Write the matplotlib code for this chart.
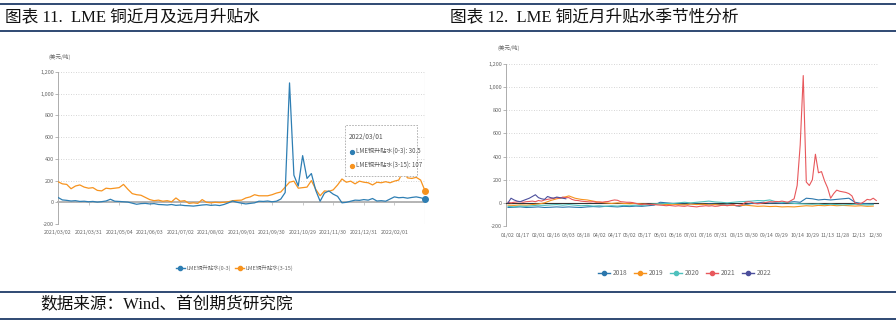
import numpy as np
import pandas as pd
import matplotlib
matplotlib.use('Agg')
import matplotlib.pyplot as plt
from matplotlib.lines import Line2D
from matplotlib.patches import Rectangle
from matplotlib.ticker import FuncFormatter

plt.rcParams['font.family'] = ['Noto Sans CJK SC', 'DejaVu Sans']

# ---- LME copper spreads, one value every 3 trading days from 2021/03/02 ----
spread_step = 3
spread_ticks = ['2021/03/02', '2021/03/31', '2021/05/04', '2021/06/03', '2021/07/02',
                '2021/08/02', '2021/09/01', '2021/09/30', '2021/10/29', '2021/11/30',
                '2021/12/31', '2022/02/01']
spread_tick_every = 21  # trading days between labels
last_date = '2022/03/01'

near_vals = [45, 22, 18, 12, 15, 8, 10, 5, 8, 2,
             6, 12, 28, 10, 8, 5, 2, -8, -18, -12,
             -10, -15, -12, -20, -22, -25, -20, -28, -25, -30,
             -32, -35, -30, -25, -22, -28, -25, -30, -20, -5,
             12, 0, -8, -15, -10, -5, 10, 8, 12, 5,
             10, 30, 90, 1100, 250, 150, 430, 220, 265, 110,
             10, 85, 105, 75, 55, -5, 0, 10, 20, 18,
             25, 20, 35, 12, 15, 10, 30, 50, 42, 45,
             38, 45, 50, 42, 30.5]

far_vals = [190, 170, 165, 125, 150, 160, 140, 130, 135, 110,
            105, 130, 125, 130, 135, 165, 120, 80, 70, 65,
            45, 25, 15, 20, 10, 15, 5, 40, 10, 15,
            -10, -5, -10, 25, 0, -5, 0, -3, 0, 5,
            15, 18, 20, 40, 50, 70, 60, 60, 60, 70,
            85, 95, 140, 185, 195, 130, 135, 140, 200, 120,
            60, 105, 100, 115, 160, 215, 185, 195, 170, 195,
            185, 180, 160, 185, 180, 190, 180, 195, 205, 285,
            225, 220, 230, 205, 107]

near_name = 'LME铜升贴水(0-3)'
far_name = 'LME铜升贴水(3-15)'

# ---- seasonal view of the near spread, calendar days from 01/02 ----
season_ticks = ['01/02', '01/17', '02/01', '02/16', '03/03', '03/18', '04/02', '04/17',
                '05/02', '05/17', '06/01', '06/16', '07/01', '07/16', '07/31', '08/15',
                '08/30', '09/14', '09/29', '10/14', '10/29', '11/13', '11/28', '12/13', '12/30']

y2018 = [-40, -38, -35, -40, -38, -35, -40, -38, -35, -38,
         -35, -38, -40, -35, -32, -35, -30, -32, -35, -30,
         -32, -28, -30, -25, -20, 5, 0, -5, -10, -12,
         -8, -10, -15, -10, -12, -15, -18, -20, -30, -15,
         -5, 0, 5, -2, 0, -5, 5, 10, 5, 40,
         35, 25, 30, 25, 30, 35, 40, 5, -5, -8, -10]
y2019 = [-20, -22, -18, -20, -15, -10, 0, 20, 35, 45,
         60, 40, 30, 25, 15, 5, 0, -5, 0, -5,
         -8, -5, -10, -15, -12, -10, -15, -12, -15, -18,
         -10, -15, -12, -18, -15, -20, -22, -20, -25, -20,
         -25, -30, -28, -32, -30, -35, -33, -35, -30, -25,
         -28, -22, -25, -20, -25, -22, -25, -28, -25, -30, -28]
y2020 = [-30, -35, -28, -30, -25, -20, -22, -18, -15, -20,
         -15, -20, -25, -22, -28, -25, -30, -25, -28, -22,
         -25, -20, -22, -15, -10, -8, -5, -5, 0, 5,
         0, 5, 10, 15, 8, 5, 0, 5, 10, 12,
         15, 20, 18, 25, 10, 5, 0, -5, -8, -10,
         -12, -10, -15, -12, -15, -18, -15, -12, -15, -18, -15]
y2021 = [5, 0, 5, 8, 10, 5, 10, 12, 15, 10,
         20, 15, 25, 30, 35, 40, 45, 40, 50, 45,
         45, 30, 22, 20, 15, 12, 10, 8, 10, 5,
         8, 6, 10, 12, 20, 25, 22, 10, 8, 5,
         5, 2, -5, -12, -15, -10, -12, -15, -15, -18,
         -20, -22, -25, -22, -25, -28, -25, -28, -30, -25,
         -30, -32, -35, -30, -28, -25, -28, -25, -30, -28,
         -22, -20, -25, -20, -15, -25, -20, -15, 5, 10,
         5, -5, -8, -5, 0, 5, 10, 8, 12, 10,
         15, 10, 5, 20, 35, 150, 500, 1100, 180, 150,
         200, 420, 260, 270, 190, 130, 40, 80, 110, 100,
         95, 90, 80, 60, 0, -10, -5, 10, 30, 25, 40, 20]
y2022 = [0, 40, 25, 15, 10, 20, 30, 40, 55, 70,
         45, 35, 30, 55, 45, 40, 50, 45, 40, 35]

season_series = [('2018', y2018, 6, '#2b77ad'),
                 ('2019', y2019, 6, '#f7931e'),
                 ('2020', y2020, 6, '#4fc1bd'),
                 ('2021', y2021, 3, '#e8585c'),
                 ('2022', y2022, 3, '#4c4f9c')]

near_color = '#2e7eb3'
far_color = '#f7931e'
navy = '#1f3a68'
txt_gray = '#666666'

fig = plt.figure(figsize=(8.96, 3.24), dpi=100)


def style_axes(ax, zero_color, zero_lw, tick_len, pad):
    ax.set_ylim(-200, 1200)
    ax.set_yticks(np.arange(-200, 1201, 200))
    ax.yaxis.set_major_formatter(FuncFormatter(lambda v, p: f'{v:,.0f}'))
    ax.grid(axis='y', linestyle=(0, (1, 2)), color='#c8c8c8', lw=0.6)
    ax.set_axisbelow(True)
    for s in ('top', 'right'):
        ax.spines[s].set_visible(False)
    ax.spines['left'].set_color('#a0a0a0')
    ax.spines['left'].set_linewidth(0.6)
    ax.spines['bottom'].set_position(('data', 0))
    ax.spines['bottom'].set_color(zero_color)
    ax.spines['bottom'].set_linewidth(zero_lw)
    ax.tick_params(axis='y', length=2, width=0.5, color='#999999', labelsize=4,
                   labelcolor=txt_gray, pad=1)
    ax.tick_params(axis='x', length=tick_len, width=0.5, color=zero_color, labelsize=3.8,
                   labelcolor=txt_gray, pad=pad)


# ---- left panel: near and far spreads ----
ax1 = fig.add_axes([0.0647, 0.3086, 0.4096, 0.469])
idx = np.arange(len(near_vals)) * spread_step
ax1.plot(idx, far_vals, color=far_color, lw=0.9, zorder=3)
ax1.plot(idx, near_vals, color=near_color, lw=0.9, zorder=4)
ax1.set_xlim(0, idx[-1])
style_axes(ax1, '#b4b4b4', 1.4, 2.5, 17.5)
ax1.set_xticks(np.arange(len(spread_ticks)) * spread_tick_every)
ax1.set_xticklabels(spread_ticks)
ax1.axvline(idx[-1], color='#d0d0d0', lw=0.8, zorder=2)
ax1.plot(idx[-1], near_vals[-1], 'o', color=near_color, ms=4, zorder=6, clip_on=False)
ax1.plot(idx[-1], far_vals[-1], 'o', color=far_color, ms=4, zorder=6, clip_on=False)

# hover box for the last trading day
ax1.add_patch(Rectangle((0.782, 0.316), 0.196, 0.335, transform=ax1.transAxes,
                        facecolor='white', edgecolor='#aaaaaa', lw=0.6,
                        linestyle=(0, (2, 1.5)), zorder=7))
ax1.text(0.793, 0.572, last_date, transform=ax1.transAxes, fontsize=4.8,
         color='#555555', va='center', zorder=8)
for yy, c, name, v in [(0.474, near_color, near_name, near_vals[-1]),
                       (0.382, far_color, far_name, far_vals[-1])]:
    ax1.plot(0.800, yy, 'o', color=c, ms=2.8, transform=ax1.transAxes, zorder=8)
    ax1.text(0.811, yy, f'{name}: {v:g}', transform=ax1.transAxes, fontsize=4.4,
             color='#555555', va='center', zorder=8)

fig.text(0.0536, 0.824, '(美元/吨)', fontsize=4, color=txt_gray, ha='left', va='center')
h1 = [Line2D([], [], color=near_color, lw=1, marker='o', ms=3),
      Line2D([], [], color=far_color, lw=1, marker='o', ms=3)]
fig.legend(h1, [near_name, far_name], loc='center', bbox_to_anchor=(0.262, 0.173),
           ncol=2, frameon=False, fontsize=4.0, handlelength=1.6, handletextpad=0.3,
           columnspacing=0.8, labelcolor=txt_gray)

# ---- right panel: seasonal near spread ----
ax2 = fig.add_axes([0.5647, 0.3025, 0.415, 0.5])
for year, vals, step, c in season_series:
    days = np.arange(len(vals)) * step
    ax2.plot(days, vals, color=c, lw=0.8, zorder=3)
ax2.set_xlim(-2, 364.5)
style_axes(ax2, '#333333', 0.8, 0, 21.5)
start = pd.Timestamp('2021-01-02')
tick_days = [(pd.Timestamp('2021/' + t) - start).days for t in season_ticks]
ax2.set_xticks(tick_days)
ax2.set_xticklabels(season_ticks)

fig.text(0.555, 0.852, '(美元/吨)', fontsize=4, color=txt_gray, ha='left', va='center')
h2 = [Line2D([], [], color=c, lw=1, marker='o', ms=3) for _, _, _, c in season_series]
fig.legend(h2, [s[0] for s in season_series], loc='center', bbox_to_anchor=(0.7645, 0.157),
           ncol=5, frameon=False, fontsize=4.8, handlelength=1.8, handletextpad=0.4,
           columnspacing=1.0, labelcolor=txt_gray)

# ---- report header and footer ----
for y in (1 - 4 / 324, 1 - 31 / 324, 1 - 292 / 324, 1 - 319 / 324):
    fig.add_artist(Line2D([0, 1], [y, y], transform=fig.transFigure, color=navy, lw=1.3))

title_font = ['Liberation Serif', 'Noto Sans CJK SC']
fig.text(0.006, 1 - 17.5 / 324, '图表 11.  LME 铜近月及远月升贴水', fontsize=12,
         family=title_font, va='center', ha='left', color='#111111')
fig.text(0.502, 1 - 17.5 / 324, '图表 12.  LME 铜近月升贴水季节性分析', fontsize=12,
         family=title_font, va='center', ha='left', color='#111111')
fig.text(0.045, 1 - 305 / 324, '数据来源：Wind、首创期货研究院', fontsize=12,
         family=title_font, va='center', ha='left', color='#111111')

fig.savefig('out.png', dpi=100)
